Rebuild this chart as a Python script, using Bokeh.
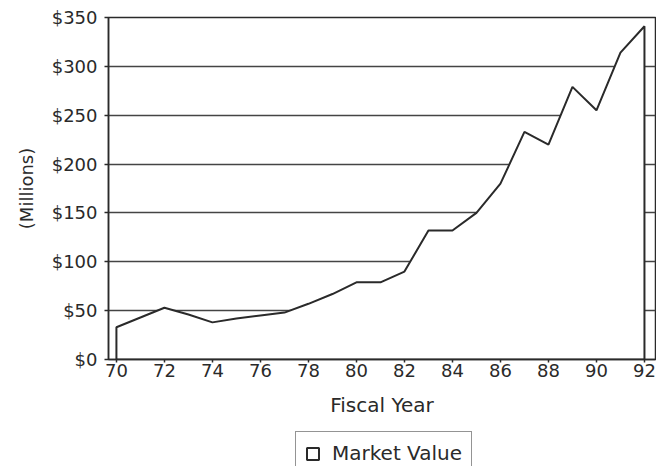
from bokeh.plotting import figure
from bokeh.models import Range1d, FixedTicker, Legend, LegendItem
from bokeh.layouts import column
from bokeh.embed import file_html
from bokeh.resources import INLINE

years = list(range(70, 93))
market_value = [33, 43, 53, 46, 38, 42, 45, 48, 57, 67, 79, 79, 90,
                132, 132, 150, 180, 233, 220, 279, 255, 314, 341]
x_ticks = list(range(70, 93, 2))
y_ticks = [0, 50, 100, 150, 200, 250, 300, 350]
y_tick_labels = ["$0", "$50", "$100", "$150", "$200", "$250", "$300", "$350"]
series_name = "Market Value"

FONT = "DejaVu Sans"
INK = "#2a2a2a"

p = figure(width=656, height=431, output_backend="svg", toolbar_location=None,
           x_range=Range1d(69.67, 92.46), y_range=Range1d(0, 350),
           min_border_left=108, min_border_top=17, min_border_right=1,
           min_border_bottom=72)
p.background_fill_color = "white"
p.border_fill_color = "white"
p.outline_line_color = INK
p.outline_line_width = 1.5

# area (white fill, dark outline)
xs = [years[0]] + years + [years[-1]]
ys = [0] + market_value + [0]
area = p.patch(xs, ys, fill_color="white", line_color=INK, line_width=2)

p.xgrid.visible = False
p.ygrid.grid_line_color = "#444444"
p.ygrid.grid_line_width = 1.5
p.ygrid.ticker = FixedTicker(ticks=y_ticks)

p.xaxis.ticker = FixedTicker(ticks=x_ticks)
p.yaxis.ticker = FixedTicker(ticks=y_ticks)
p.yaxis.major_label_overrides = {t: l for t, l in zip(y_ticks, y_tick_labels)}
p.xaxis.axis_label = "Fiscal Year"
p.yaxis.axis_label = "(Millions)"

for ax in (p.xaxis[0], p.yaxis[0]):
    ax.axis_line_color = INK
    ax.axis_line_width = 1.5
    ax.major_tick_line_color = INK
    ax.major_tick_line_width = 1.5
    ax.minor_tick_line_color = None
    ax.major_tick_in = 0
    ax.major_label_text_font = FONT
    ax.major_label_text_font_size = "18px"
    ax.major_label_text_color = INK
    ax.axis_label_text_font = FONT
    ax.axis_label_text_font_size = "18px"
    ax.axis_label_text_font_style = "normal"
    ax.axis_label_text_color = INK

p.xaxis.axis_label_text_font_size = "20px"
p.xaxis.major_tick_out = 3
p.xaxis.major_label_standoff = 1
p.xaxis.axis_label_standoff = 13
p.yaxis.major_tick_out = 4
p.yaxis.major_label_standoff = 7
p.yaxis.axis_label_standoff = 12

# legend strip below the chart (same series, drawn outside this strip's view)
lg = figure(width=656, height=35, output_backend="svg", toolbar_location=None,
            x_range=Range1d(0, 1), y_range=Range1d(0, 1),
            x_axis_location=None, y_axis_location=None, min_border=0)
lg.grid.visible = False
lg.outline_line_color = None
lg.background_fill_color = "white"
lg.border_fill_color = "white"
key = lg.patch(xs, ys, fill_color="white", line_color=INK, line_width=2)

legend = Legend(items=[LegendItem(label=series_name, renderers=[key])],
                orientation="horizontal", location=(187, -9),
                label_text_font=FONT, label_text_font_size="20px",
                label_text_color=INK, glyph_width=15, glyph_height=15,
                label_standoff=12, padding=9, margin=0,
                border_line_color=INK, border_line_width=1.5,
                background_fill_color="white", background_fill_alpha=1.0)
lg.add_layout(legend, "center")

open("out.html", "w").write(file_html(column(p, lg, spacing=0), INLINE))
